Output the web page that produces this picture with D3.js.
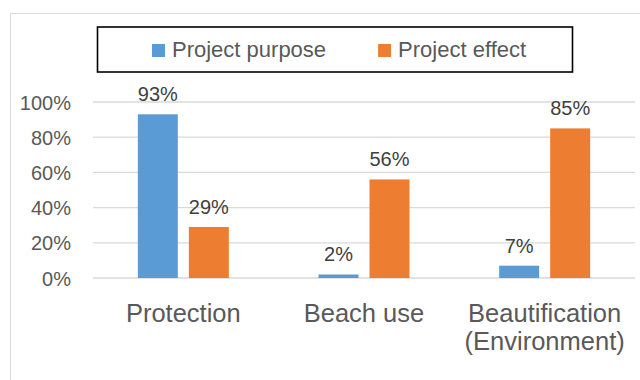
<!DOCTYPE html>
<html>
<head>
<meta charset="utf-8">
<script src="https://cdn.jsdelivr.net/npm/d3@7"></script>
<style>
  body { margin: 0; background: #fff; }
  text { font-family: "Liberation Sans", Arial, sans-serif; }
</style>
</head>
<body>
<div id="chart"></div>
<script>
var categories = [['Protection'], ['Beach use'], ['Beautification', '(Environment)']];
var series = ['Project purpose', 'Project effect'];
var purposeValues = [0.93, 0.02, 0.07];
var effectValues = [0.29, 0.56, 0.85];
var yTicks = [0, 0.2, 0.4, 0.6, 0.8, 1.0];
var colors = ['#5B9BD5', '#ED7D31'];

var W = 640, H = 380;

var svg = d3.select('#chart')
  .append('svg')
  .attr('width', W)
  .attr('height', H);

// chart frame
svg.append('rect')
  .attr('x', 10.5).attr('y', 13.5)
  .attr('width', 700).attr('height', 500)
  .style('fill', '#fff')
  .style('stroke', '#D9D9D9')
  .style('stroke-width', 1);

var catKeys = categories.map(function(c){ return c.join(' '); });

var x0 = d3.scaleBand()
  .domain(catKeys)
  .range([93, 635])
  .padding(0);

var x1 = d3.scaleBand()
  .domain(series)
  .range([-45.5, 45.5])
  .paddingInner(0.216);

var y = d3.scaleLinear()
  .domain([0, 1])
  .range([278, 102]);

// gridlines
svg.append('g')
  .selectAll('line')
  .data(yTicks)
  .enter()
  .append('line')
  .attr('x1', 93).attr('x2', 635)
  .attr('y1', d => y(d)).attr('y2', d => y(d))
  .style('stroke', '#D9D9D9')
  .style('stroke-width', 1.3);

// y axis labels
var axisY = d3.axisLeft(y)
  .tickValues(yTicks)
  .tickFormat(d3.format('.0%'))
  .tickSize(0)
  .tickPadding(0);

var gy = svg.append('g')
  .attr('transform', 'translate(71,0)')
  .call(axisY);
gy.select('.domain').remove();
gy.selectAll('text')
  .attr('dy', '0.35em')
  .style('font-family', '"Liberation Sans", Arial, sans-serif')
  .style('font-size', '20px')
  .style('fill', '#595959');

// bars
var rows = [];
catKeys.forEach(function(c, i){
  rows.push({cat: c, s: series[0], v: purposeValues[i], color: colors[0]});
  rows.push({cat: c, s: series[1], v: effectValues[i], color: colors[1]});
});

var cx = function(d){ return x0(d.cat) + x0.bandwidth() / 2; };

svg.append('g')
  .selectAll('rect')
  .data(rows)
  .enter()
  .append('rect')
  .attr('x', d => cx(d) + x1(d.s))
  .attr('y', d => y(d.v))
  .attr('width', x1.bandwidth())
  .attr('height', d => y(0) - y(d.v))
  .style('fill', d => d.color);

// value labels
svg.append('g')
  .selectAll('text')
  .data(rows)
  .enter()
  .append('text')
  .attr('x', d => cx(d) + x1(d.s) + x1.bandwidth() / 2)
  .attr('y', d => y(d.v) - 13)
  .attr('text-anchor', 'middle')
  .style('font-size', '20px')
  .style('fill', '#404040')
  .text(d => Math.round(d.v * 100) + '%');

// category labels
var catText = svg.append('g')
  .selectAll('text')
  .data(categories)
  .enter()
  .append('text')
  .attr('text-anchor', 'middle')
  .attr('x', (d, i) => x0(catKeys[i]) + x0.bandwidth() / 2)
  .attr('y', 322)
  .style('font-size', '25.5px')
  .style('fill', '#595959');

catText.selectAll('tspan')
  .data(d => d)
  .enter()
  .append('tspan')
  .attr('x', function(){ return d3.select(this.parentNode).attr('x'); })
  .attr('dy', (d, i) => i === 0 ? 0 : 28.3)
  .text(d => d);

// legend
svg.append('rect')
  .attr('x', 97.5).attr('y', 27)
  .attr('width', 475).attr('height', 45)
  .style('fill', '#fff')
  .style('stroke', '#000')
  .style('stroke-width', 1.6);

var legend = svg.append('g');
var lx = 152;
series.forEach(function(s, i){
  legend.append('rect')
    .attr('x', lx).attr('y', 44)
    .attr('width', 13).attr('height', 13)
    .style('fill', colors[i]);
  var t = legend.append('text')
    .attr('x', lx + 20).attr('y', 57.3)
    .style('font-size', '22px')
    .style('fill', '#595959')
    .text(s);
  lx += 20 + t.node().getComputedTextLength() + 52;
});
</script>
</body>
</html>
